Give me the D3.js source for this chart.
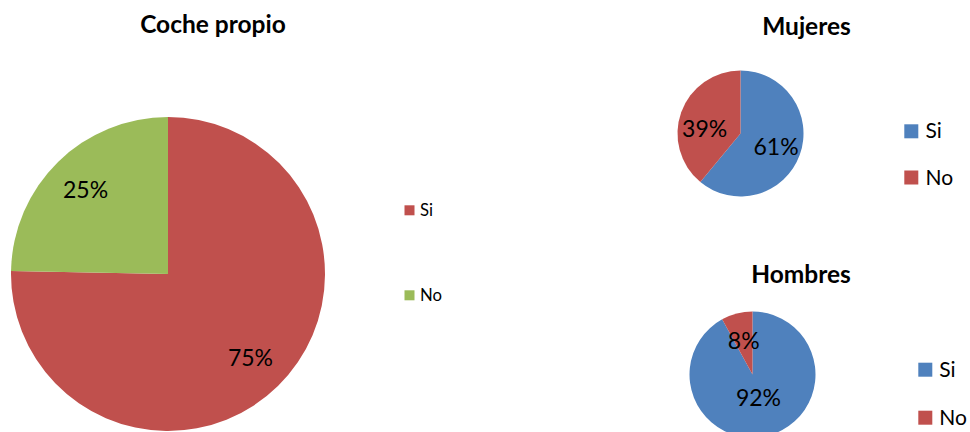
<!DOCTYPE html>
<html>
<head>
<meta charset="utf-8">
<script src="https://cdn.jsdelivr.net/npm/d3@7"></script>
<style>
  html, body { margin: 0; padding: 0; background: #fff; }
  svg { display: block; }
  text { font-family: Lato, "Open Sans", sans-serif; fill: #000; }
</style>
</head>
<body>
<svg id="chart" width="970" height="432"></svg>
<script>
// ---- Data ----
const categories = ["Si", "No"];
const titles = ["Coche propio", "Mujeres", "Hombres"];
const cochePropio = [75.3, 24.7];
const mujeres = [61, 39];
const hombres = [92, 8];

// ---- Layout / style (not data) ----
const layout = [
  { title: titles[0], values: cochePropio, colors: ["#C0504D", "#9BBB59"],
    cx: 168, cy: 274, r: 157, labelR: [0.75, 0.75],
    titleX: 213, titleY: 33, titleSize: 24.5,
    legX: 404.5, legY: [205.3, 290.3], legSq: 10, legTextX: 420, legBase: [216.3, 301.3], legSize: 16.7,
    labelSize: 23 },
  { title: titles[1], values: mujeres, colors: ["#4F81BD", "#C0504D"],
    cx: 740.5, cy: 133.5, r: 63, labelR: [0.6, 0.573], labelAngleShift: [0, -0.22],
    titleX: 806.5, titleY: 35, titleSize: 24.5,
    legX: 904.3, legY: [124.3, 170.5], legSq: 14, legTextX: 925.5, legBase: [137.7, 185], legSize: 21,
    labelSize: 23 },
  { title: titles[2], values: hombres, colors: ["#4F81BD", "#C0504D"],
    cx: 752.5, cy: 374.5, r: 63, labelR: [0.38, 0.56],
    titleX: 801, titleY: 283.3, titleSize: 24.5,
    legX: 918.3, legY: [362.7, 410.7], legSq: 14, legTextX: 939.3, legBase: [376.7, 424.5], legSize: 21,
    labelSize: 23 }
];

const svg = d3.select("#chart");
const pie = d3.pie().sort(null).value(d => d);

layout.forEach(cfg => {
  const g = svg.append("g").attr("transform", `translate(${cfg.cx},${cfg.cy})`);
  const arcs = pie(cfg.values);
  const arc = d3.arc().innerRadius(0).outerRadius(cfg.r);

  g.selectAll("path.slice")
    .data(arcs)
    .enter().append("path")
    .attr("class", "slice")
    .attr("d", arc)
    .attr("fill", (d, i) => cfg.colors[i]);

  g.selectAll("text.lbl")
    .data(arcs)
    .enter().append("text")
    .attr("class", "lbl")
    .attr("transform", (d, i) => {
      const shift = cfg.labelAngleShift ? cfg.labelAngleShift[i] : 0;
      const a = (d.startAngle + d.endAngle) / 2 + shift;
      const rr = cfg.r * cfg.labelR[i];
      return `translate(${Math.sin(a) * rr},${-Math.cos(a) * rr})`;
    })
    .attr("text-anchor", "middle")
    .attr("dy", "0.36em")
    .style("font-size", cfg.labelSize + "px")
    .text(d => Math.round(d.data) + "%");

  svg.append("text")
    .attr("x", cfg.titleX)
    .attr("y", cfg.titleY)
    .attr("text-anchor", "middle")
    .style("font-size", cfg.titleSize + "px")
    .style("font-weight", "bold")
    .text(cfg.title);

  categories.forEach((c, i) => {
    svg.append("rect")
      .attr("x", cfg.legX)
      .attr("y", cfg.legY[i])
      .attr("width", cfg.legSq)
      .attr("height", cfg.legSq)
      .attr("fill", cfg.colors[i]);
    svg.append("text")
      .attr("x", cfg.legTextX)
      .attr("y", cfg.legBase[i])
      .style("font-size", cfg.legSize + "px")
      .text(c);
  });
});
</script>
</body>
</html>
